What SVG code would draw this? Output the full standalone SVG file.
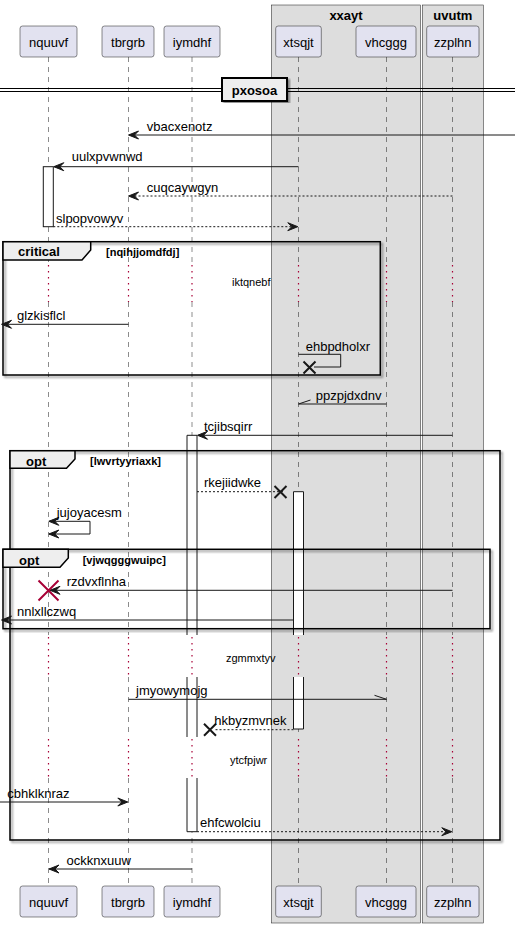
<svg xmlns="http://www.w3.org/2000/svg" width="515" height="928" viewBox="0 0 515 928">
<defs>
  <filter id="shadow" x="-5%" y="-5%" width="110%" height="110%">
    <feGaussianBlur in="SourceAlpha" stdDeviation="1"/>
    <feOffset dx="2" dy="2" result="off"/>
    <feComponentTransfer><feFuncA type="linear" slope="0.45"/></feComponentTransfer>
    <feMerge><feMergeNode/><feMergeNode in="SourceGraphic"/></feMerge>
  </filter>
  <polygon id="headL" points="0,0 10,-4 6,0 10,4"/>
  <polygon id="headR" points="0,0 -10,-4 -6,0 -10,4"/>
</defs>
<style>
  text { font-family: "Liberation Sans", Arial, sans-serif; fill: #000; }
  .pname { font-size: 13px; text-anchor: middle; }
  .msg { font-size: 13px; }
  .bold { font-weight: bold; }
  .cond { font-size: 11px; font-weight: bold; }
  .delay { font-size: 11px; }
  .part { fill: #E2E2F0; stroke: #181818; stroke-width: 0.5; }
  .grp { fill: #DDDDDD; stroke: #181818; stroke-width: 0.5; }
  .life { stroke: #181818; stroke-width: 0.5; stroke-dasharray: 5,5; fill: none; }
  .dly { stroke: #A80036; stroke-width: 1.2; stroke-dasharray: 1.5,4.5; fill: none; }
  .act { fill: #FFFFFF; stroke: none; }
  .actb { fill: none; stroke: #181818; stroke-width: 1; }
  .frag { fill: none; stroke: #000; stroke-width: 1.5; }
  .tab { fill: #EEEEEE; stroke: #000; stroke-width: 1.5; }
  .line { stroke: #181818; stroke-width: 1; fill: none; }
  .dash { stroke: #181818; stroke-width: 1; stroke-dasharray: 2,2; fill: none; }
  .head { fill: #181818; stroke: #181818; stroke-width: 1; }
  .xm { stroke: #181818; stroke-width: 2; }
  .xr { stroke: #A80036; stroke-width: 2; }
</style>
<rect width="515" height="928" fill="#FFFFFF"/>

<!-- participant boxes -->
<g id="box-xxayt">
  <rect class="grp" x="271.3" y="5" width="149.4" height="918"/>
  <text class="msg bold" x="346" y="19.5" text-anchor="middle">xxayt</text>
</g>
<g id="box-uvutm">
  <rect class="grp" x="422.3" y="5" width="61" height="918"/>
  <text class="msg bold" x="452.8" y="19.5" text-anchor="middle">uvutm</text>
</g>

<!-- lifelines -->
<g id="lifelines">
  <path class="life" d="M48.5,57V263M48.5,302V635M48.5,677V737M48.5,778V886"/>
  <path class="life" d="M128.5,57V263M128.5,302V635M128.5,677V737M128.5,778V886"/>
  <path class="life" d="M192,57V263M192,302V635M192,677V737M192,778V886"/>
  <path class="life" d="M298.5,57V263M298.5,302V635M298.5,677V737M298.5,778V886"/>
  <path class="life" d="M386.5,57V263M386.5,302V635M386.5,677V737M386.5,778V886"/>
  <path class="life" d="M452.5,57V263M452.5,302V635M452.5,677V737M452.5,778V886"/>
  <path class="dly" d="M48.5,265V302M128.5,265V302M192,265V302M298.5,265V302M386.5,265V302M452.5,265V302"/>
  <path class="dly" d="M48.5,637V677M128.5,637V677M192,637V677M298.5,637V677M386.5,637V677M452.5,637V677"/>
  <path class="dly" d="M48.5,739V778M128.5,739V778M192,739V778M298.5,739V778M386.5,739V778M452.5,739V778"/>
</g>

<!-- participants -->
<g id="nquuvf">
  <rect class="part" x="20" y="26" width="57" height="31" rx="2.5"/>
  <text class="pname" x="48.5" y="46.5">nquuvf</text>
  <rect class="part" x="20" y="886" width="57" height="31" rx="2.5"/>
  <text class="pname" x="48.5" y="906.5">nquuvf</text>
</g>
<g id="tbrgrb">
  <rect class="part" x="102" y="26" width="52" height="31" rx="2.5"/>
  <text class="pname" x="128" y="46.5">tbrgrb</text>
  <rect class="part" x="102" y="886" width="52" height="31" rx="2.5"/>
  <text class="pname" x="128" y="906.5">tbrgrb</text>
</g>
<g id="iymdhf">
  <rect class="part" x="164" y="26" width="56" height="31" rx="2.5"/>
  <text class="pname" x="192" y="46.5">iymdhf</text>
  <rect class="part" x="164" y="886" width="56" height="31" rx="2.5"/>
  <text class="pname" x="192" y="906.5">iymdhf</text>
</g>
<g id="xtsqjt">
  <rect class="part" x="275.7" y="26" width="45.6" height="31" rx="2.5"/>
  <text class="pname" x="298.5" y="46.5">xtsqjt</text>
  <rect class="part" x="275.7" y="886" width="45.6" height="31" rx="2.5"/>
  <text class="pname" x="298.5" y="906.5">xtsqjt</text>
</g>
<g id="vhcggg">
  <rect class="part" x="356" y="26" width="60" height="31" rx="2.5"/>
  <text class="pname" x="386" y="46.5">vhcggg</text>
  <rect class="part" x="356" y="886" width="60" height="31" rx="2.5"/>
  <text class="pname" x="386" y="906.5">vhcggg</text>
</g>
<g id="zzplhn">
  <rect class="part" x="426.7" y="26" width="52.3" height="31" rx="2.5"/>
  <text class="pname" x="452.8" y="46.5">zzplhn</text>
  <rect class="part" x="426.7" y="886" width="52.3" height="31" rx="2.5"/>
  <text class="pname" x="452.8" y="906.5">zzplhn</text>
</g>

<!-- divider -->
<g id="divider-pxosoa">
  <path d="M0,88.5H222M287,88.5H515M0,91.5H222M287,91.5H515" stroke="#000" stroke-width="1"/>
  <rect x="222" y="78" width="65" height="23" fill="#EEEEEE" stroke="#000" stroke-width="2" filter="url(#shadow)"/>
  <text class="msg bold" x="254.5" y="94.5" text-anchor="middle">pxosoa</text>
</g>

<!-- activations -->
<g id="activations">
  <rect class="act" x="43.3" y="166.7" width="10" height="60"/>
  <rect class="actb" x="43.3" y="166.7" width="10" height="60"/>
  <rect class="act" x="187" y="435.3" width="10" height="199.7"/>
  <rect class="act" x="187" y="677" width="10" height="60"/>
  <rect class="act" x="187" y="778" width="10" height="53.7"/>
  <path class="actb" d="M187,635V435.3H197V635M187,677V737M197,677V737M187,778V831.7H197V778"/>
  <rect class="act" x="293.5" y="491.7" width="10" height="143.3"/>
  <rect class="act" x="293.5" y="677" width="10" height="52"/>
  <path class="actb" d="M293.5,635V491.7H303.5V635M293.5,677V729H303.5V677"/>
</g>

<!-- fragments -->
<g id="frag-critical">
  <rect class="frag" x="3" y="241.7" width="377.3" height="133.3" filter="url(#shadow)"/>
  <path class="tab" d="M3,241.7H90.7V250L82,260H3Z"/>
  <text class="msg bold" x="18" y="256">critical</text>
  <text class="cond" x="106" y="255.5">[nqihjjomdfdj]</text>
  <text class="delay" x="232" y="285.5">iktqnebf</text>
</g>
<g id="frag-opt-outer">
  <rect class="frag" x="10" y="450.7" width="490" height="389.3" filter="url(#shadow)"/>
  <path class="tab" d="M10,450.7H75V459L66.5,468.3H10Z"/>
  <text class="msg bold" x="26" y="466">opt</text>
  <text class="cond" x="90" y="465">[lwvrtyyriaxk]</text>
</g>
<g id="frag-opt-inner">
  <rect class="frag" x="3" y="549.3" width="487" height="79.4" filter="url(#shadow)"/>
  <path class="tab" d="M3,549.3H68.3V558L60,567.3H3Z"/>
  <text class="msg bold" x="19" y="564.5">opt</text>
  <text class="cond" x="82.7" y="564">[vjwqgggwuipc]</text>
</g>
<g id="delays">
  <text class="delay" x="226" y="662">zgmmxtyv</text>
  <text class="delay" x="230" y="764">ytcfpjwr</text>
</g>

<!-- messages -->
<g id="connectors">
  <!-- vbacxenotz -->
  <line class="line" x1="515" y1="135" x2="129" y2="135"/>
  <use href="#headL" class="head" x="128.5" y="135"/>
  <text class="msg" x="146.7" y="131">vbacxenotz</text>

  <!-- uulxpvwnwd -->
  <line class="line" x1="298.5" y1="166.7" x2="54" y2="166.7"/>
  <use href="#headL" class="head" x="53.8" y="166.7"/>
  <text class="msg" x="71.7" y="160.5">uulxpvwnwd</text>

  <!-- cuqcaywgyn -->
  <line class="dash" x1="452.5" y1="196" x2="129" y2="196"/>
  <use href="#headL" class="head" x="128.5" y="196"/>
  <text class="msg" x="146.7" y="192">cuqcaywgyn</text>

  <!-- slpopvowyv -->
  <line class="dash" x1="53.3" y1="226.7" x2="297" y2="226.7"/>
  <use href="#headR" class="head" x="297.8" y="226.7"/>
  <text class="msg" x="56" y="223">slpopvowyv</text>

  <!-- glzkisflcl -->
  <line class="line" x1="128.5" y1="324.3" x2="2" y2="324.3"/>
  <use href="#headL" class="head" x="1.5" y="324.3"/>
  <text class="msg" x="17" y="319.5">glzkisflcl</text>

  <!-- ehbpdholxr -->
  <path class="line" d="M298.5,354.3H340.7V367H314"/>
  <path class="xm" d="M303.5,361.5L315.5,373.5M315.5,361.5L303.5,373.5"/>
  <text class="msg" x="305.7" y="350.5">ehbpdholxr</text>

  <!-- ppzpjdxdnv -->
  <line class="line" x1="386.5" y1="404" x2="298.5" y2="404"/>
  <line class="line" x1="298.5" y1="404" x2="310.5" y2="400"/>
  <text class="msg" x="315.7" y="400">ppzpjdxdnv</text>

  <!-- tcjibsqirr -->
  <line class="line" x1="452.5" y1="435.3" x2="198" y2="435.3"/>
  <use href="#headL" class="head" x="197.5" y="435.3"/>
  <text class="msg" x="204" y="431">tcjibsqirr</text>

  <!-- rkejiidwke -->
  <line class="dash" x1="197" y1="491.7" x2="284" y2="491.7"/>
  <path class="xm" d="M274.5,486L286.5,498M286.5,486L274.5,498"/>
  <text class="msg" x="204" y="487">rkejiidwke</text>

  <!-- jujoyacesm -->
  <path class="line" d="M49,521.3H90V534H49"/>
  <use href="#headL" class="head" x="48.8" y="521.3"/>
  <use href="#headL" class="head" x="48.8" y="534"/>
  <text class="msg" x="56.7" y="517">jujoyacesm</text>

  <!-- rzdvxflnha -->
  <line class="line" x1="452.5" y1="590.3" x2="51" y2="590.3"/>
  <use href="#headL" class="head" x="50" y="590.3"/>
  <path class="xr" d="M38.5,580.5L58.5,600.5M58.5,580.5L38.5,600.5"/>
  <text class="msg" x="66.7" y="586">rzdvxflnha</text>

  <!-- nnlxllczwq -->
  <line class="line" x1="293.5" y1="620" x2="2" y2="620"/>
  <use href="#headL" class="head" x="1.5" y="620"/>
  <text class="msg" x="17" y="615.5">nnlxllczwq</text>

  <!-- jmyowymojg -->
  <line class="line" x1="128.5" y1="699.3" x2="386.5" y2="699.3"/>
  <line class="line" x1="386.5" y1="699.3" x2="374.5" y2="695.3"/>
  <text class="msg" x="136" y="695">jmyowymojg</text>

  <!-- hkbyzmvnek -->
  <line class="dash" x1="293.5" y1="729.7" x2="214" y2="729.7"/>
  <path class="xm" d="M204,723.7L216,735.7M216,723.7L204,735.7"/>
  <text class="msg" x="214.3" y="725">hkbyzmvnek</text>

  <!-- cbhklknraz -->
  <line class="line" x1="0" y1="802" x2="127" y2="802"/>
  <use href="#headR" class="head" x="127.8" y="802"/>
  <text class="msg" x="7.3" y="797.5">cbhklknraz</text>

  <!-- ehfcwolciu -->
  <line class="dash" x1="197" y1="831.7" x2="451" y2="831.7"/>
  <use href="#headR" class="head" x="451.8" y="831.7"/>
  <text class="msg" x="200" y="827">ehfcwolciu</text>

  <!-- ockknxuuw -->
  <line class="line" x1="192" y1="869" x2="49.5" y2="869"/>
  <use href="#headL" class="head" x="49" y="869"/>
  <text class="msg" x="66.5" y="864.5">ockknxuuw</text>
</g>
</svg>
